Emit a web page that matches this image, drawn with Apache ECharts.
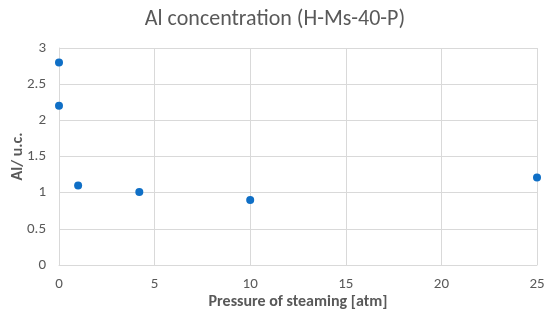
<!DOCTYPE html>
<html>
<head>
<meta charset="utf-8">
<script src="https://cdn.jsdelivr.net/npm/echarts@6/dist/echarts.min.js"></script>
<style>html,body{margin:0;padding:0;background:#fff;}#c{width:550px;height:321px;}</style>
</head>
<body>
<div id="c"></div>
<script>
var titleText = 'Al concentration (H-Ms-40-P)';
var xName = 'Pressure of steaming [atm]';
var yName = 'Al/ u.c.';
var pressure = [0, 0, 1, 4.2, 10, 25];
var alValues = [2.8, 2.2, 1.1, 1.01, 0.9, 1.21];

var points = pressure.map(function (p, i) { return [p, alValues[i]]; });
var chart = echarts.init(document.getElementById('c'));
var font = 'Calibri, Carlito, "Open Sans", "Noto Sans", sans-serif';
chart.setOption({
  animation: false,
  title: {
    text: titleText, left: 'center', top: 3,
    textStyle: { color: '#595959', fontSize: 22, fontWeight: 'normal', fontFamily: font }
  },
  grid: { left: 59, right: 13, top: 48, bottom: 56, containLabel: false, outerBoundsMode: 'none' },
  xAxis: {
    type: 'value', min: 0, max: 25, interval: 5,
    name: xName, nameLocation: 'middle', nameGap: 29, nameMoveOverlap: false,
    nameTextStyle: { color: '#595959', fontSize: 16, fontWeight: 'bold', fontFamily: font },
    axisLine: { show: true, lineStyle: { color: '#d9d9d9' } },
    axisTick: { show: false },
    axisLabel: { color: '#595959', fontSize: 15, margin: 12, fontFamily: font },
    splitLine: { show: true, lineStyle: { color: '#d9d9d9' } }
  },
  yAxis: {
    type: 'value', min: 0, max: 3, interval: 0.5,
    name: yName, nameLocation: 'middle', nameGap: 33, nameRotate: 90, nameMoveOverlap: false,
    nameTextStyle: { color: '#595959', fontSize: 16, fontWeight: 'bold', fontFamily: font },
    axisLine: { show: true, lineStyle: { color: '#d9d9d9' } },
    axisTick: { show: false },
    axisLabel: { color: '#595959', fontSize: 15, margin: 13, fontFamily: font },
    splitLine: { show: true, lineStyle: { color: '#d9d9d9' } }
  },
  series: [{
    type: 'scatter', data: points, symbolSize: 8,
    itemStyle: { color: '#0f6fc6', opacity: 1 }
  }]
});
</script>
</body>
</html>
